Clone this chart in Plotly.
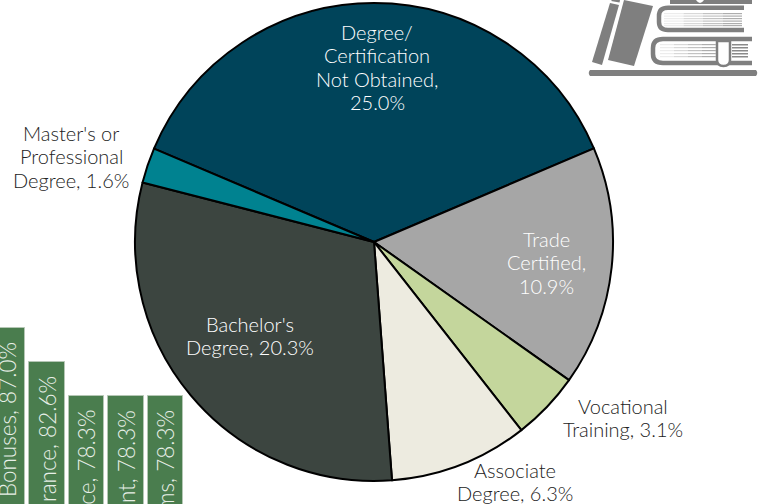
import plotly.graph_objects as go

W, H = 771, 504

education_labels = ["Degree/<br>Certification<br>Not Obtained,", "Trade<br>Certified,", "Vocational<br>Training,",
                    "Associate<br>Degree,", "Bachelor's<br>Degree,", "Master's or<br>Professional<br>Degree,"]
education_values = [25.0, 10.9, 3.1, 6.3, 20.3, 1.6]
education_colors = ["#00445a", "#a6a6a6", "#c4d69c", "#edebe0", "#3c4540", "#008290"]
value_on_own_line = [True, True, False, False, False, False]
label_colors = ["#ffffff", "#ffffff", "#222222", "#222222", "#ffffff", "#222222"]
label_tops = [(377, 32), (546, 239), (623, 405.5), (515, 469.5), (250, 324), (71, 133)]
LINE_STEP = 23.3

benefit_labels = ["g Bonuses", "rance", "ce", "nt", "ms"]
benefit_values = [87.0, 82.6, 78.3, 78.3, 78.3]
benefit_positions = [0, 1, 2, 3, 4]

CX, CY, R = 374, 242, 239
FONT = "Lato"

fig = go.Figure()
fig.add_trace(go.Bar(x=benefit_positions, y=benefit_values, width=0.9,
                     marker=dict(color="#4a7d4e", line=dict(color="#b5c7b5", width=1)),
                     hoverinfo="skip", showlegend=False))
fig.add_trace(go.Pie(values=education_values, labels=[l.replace("<br>", " ") for l in education_labels],
                     sort=False, direction="clockwise", rotation=-67,
                     marker=dict(colors=education_colors, line=dict(color="#000000", width=2)),
                     textinfo="none", hoverinfo="skip", showlegend=False,
                     domain=dict(x=[(CX - R) / W, (CX + R) / W], y=[(H - CY - R) / H, (H - CY + R) / H])))

annotations = []
for lab, val, own, col, (px, py) in zip(education_labels, education_values, value_on_own_line, label_colors, label_tops):
    lines = lab.split("<br>")
    if own:
        lines.append(f"{val:.1f}%")
    else:
        lines[-1] += f" {val:.1f}%"
    for i, line in enumerate(lines):
        annotations.append(dict(text=line, xref="paper", yref="paper", x=px / W, y=1 - (py + i * LINE_STEP) / H,
                                xanchor="center", yanchor="middle", align="center", showarrow=False,
                                font=dict(family=FONT, size=20, weight=300, color=col)))
for pos, lab, val in zip(benefit_positions, benefit_labels, benefit_values):
    annotations.append(dict(text=f"{lab}, {val:.1f}%", xref="x", yref="y", x=pos, y=val, yshift=-12,
                            xanchor="center", yanchor="top", textangle=-90, showarrow=False,
                            font=dict(family=FONT, size=22.5, weight=300, color="#e8efe8")))

GREY = "#7f7f7f"


def px_x(x):
    return f"{x / W:.5f}"


def px_y(y):
    return f"{1 - y / H:.5f}"


def pth(d, fill=GREY, stroke=GREY, width=0):
    out = []
    for tok in d.split():
        if "," in tok:
            a, b = tok.split(",")
            out.append(px_x(float(a)) + "," + px_y(float(b)))
        else:
            out.append(tok)
    return dict(type="path", xref="paper", yref="paper", path=" ".join(out), fillcolor=fill,
                line=dict(color=stroke, width=width), layer="above")


def box(x0, y0, x1, y1, color=GREY):
    return dict(type="rect", xref="paper", yref="paper", x0=x0 / W, x1=x1 / W, y0=1 - y0 / H, y1=1 - y1 / H,
                fillcolor=color, line=dict(color=color, width=0), layer="above")


NOFILL = "rgba(0,0,0,0)"
shapes = [
    pth("M 590,70 L 756,70 Q 758.5,73 756,76 L 590,76 Q 587.5,73 590,70 Z"),
    pth("M 610,3 L 619,5 L 602,65 L 592,62 Z"),
    pth("M 612,0 L 620,0 L 619.5,2.5 L 611,1 Z"),
    pth("M 624,0 L 653,6 L 634,66 L 608,60 Z"),
    box(670, 0, 752, 4),
    pth("M 744,7.8 L 668,7.8 Q 659,7.8 659,16 L 659,22 Q 659,30 668,30 L 744,30", fill=NOFILL, width=4.5),
    pth("M 752,39 L 663,39 Q 653,39 653,48 L 653,54 Q 653,63 663,63 L 752,63", fill=NOFILL, width=4.5),
    pth("M 717,41 L 717,60 Q 717,66 723.5,66 Q 730,66 730,60 L 730,41 Z", fill="#ffffff", width=2.5),
    pth("M 696,0 Q 698,3 700,3 Q 702,3 704,0 Z", fill="#ffffff", stroke="#ffffff"),
]
fade = ["#ececec", "#d8d8d8", "#c2c2c2", "#adadad"]
for y in (13, 15.5, 18, 20.5, 23, 25):
    for i, c in enumerate(fade):
        shapes.append(box(664 + i * 19.5, y, 664 + (i + 1) * 19.5, y + 1.2, color=c))
for y in (44, 47, 50, 53, 56):
    for i, c in enumerate(fade):
        shapes.append(box(660 + i * 14, y, 660 + (i + 1) * 14, y + 1.2, color=c))
    shapes.append(box(732, y, 748, y + 1.5, color="#8a8a8a"))

fig.update_layout(
    width=W, height=H, margin=dict(l=0, r=0, t=0, b=0), autosize=False,
    paper_bgcolor="#ffffff", plot_bgcolor="rgba(0,0,0,0)", showlegend=False,
    bargap=0,
    xaxis=dict(range=[-0.19, 19.35], visible=False, fixedrange=True),
    yaxis=dict(range=[64.46, 128.9], visible=False, fixedrange=True),
    annotations=annotations, shapes=shapes,
)
fig.write_html("out.html", config=dict(displayModeBar=False),
               post_script="document.body.style.margin='0';document.documentElement.style.overflow='hidden';")
